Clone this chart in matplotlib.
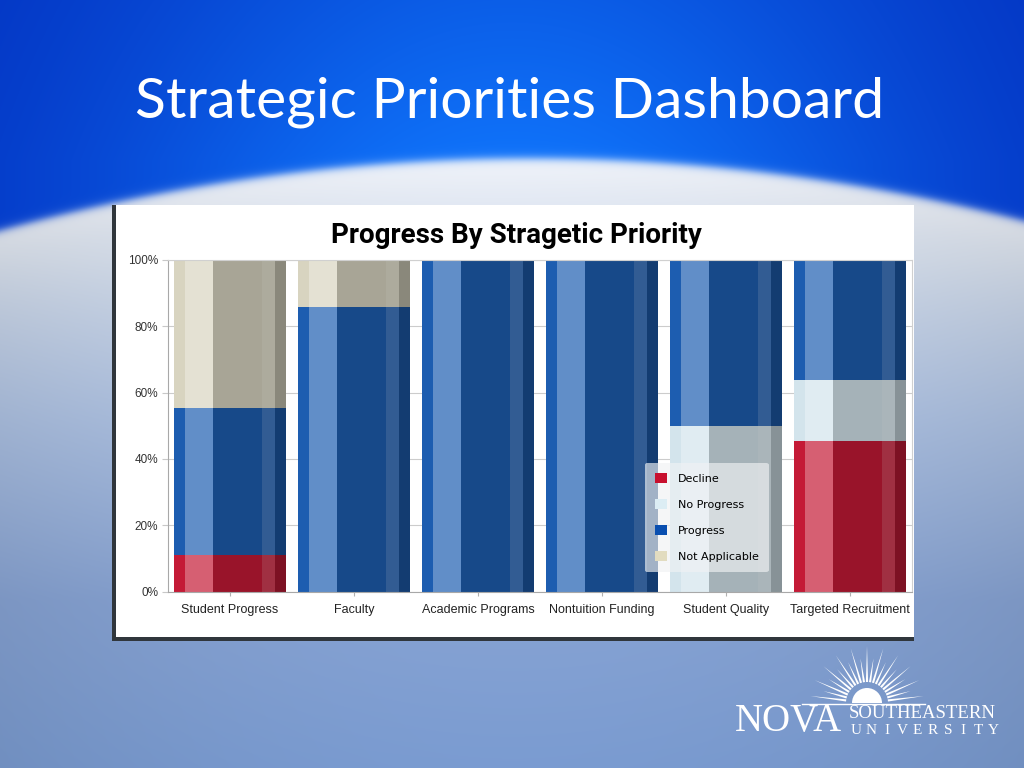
import matplotlib
matplotlib.use('Agg')
import matplotlib.pyplot as plt
import numpy as np
from matplotlib.patches import Rectangle, Wedge, Polygon
from matplotlib.colors import to_rgb

#====Data====
categories = ['Student Progress', 'Faculty', 'Academic Programs',
              'Nontuition Funding', 'Student Quality', 'Targeted Recruitment']
decline = [11.1, 0, 0, 0, 0, 45.5]
no_progress = [0, 0, 0, 0, 50.0, 18.2]
progress = [44.4, 85.7, 100, 100, 50.0, 36.3]
not_applicable = [44.5, 14.3, 0, 0, 0, 0]
series_names = ['Decline', 'No Progress', 'Progress', 'Not Applicable']
series_values = [decline, no_progress, progress, not_applicable]
series_colors = ['#c41a36', '#d3e4ec', '#1d5db0', '#d8d4c0']
legend_colors = ['#c8102e', '#dcedf4', '#0a4fb0', '#e2dcc0']
yticks = [0, 20, 40, 60, 80, 100]
ytick_labels = ['0%', '20%', '40%', '60%', '80%', '100%']

#====Cylinder look: vertical stripes (start, end, darken, lighten)====
stripes = [(0.0, 0.095, 0.0, 0.0), (0.095, 0.35, 0.0, 0.3), (0.35, 0.79, 0.22, 0.0),
           (0.79, 0.90, 0.25, 0.12), (0.90, 1.0, 0.36, 0.0)]

def shade(c, dk, lt):
    c = np.array(to_rgb(c)) * (1 - dk)
    return c + (1 - c) * lt

W, H = 1024, 768
fig = plt.figure(figsize=(10.24, 7.68), dpi=100)

#====Slide background====
bg = fig.add_axes([0, 0, 1, 1])
bg.set_xlim(0, W)
bg.set_ylim(H, 0)
bg.axis('off')

yy, xx = np.mgrid[0:H, 0:W].astype(float)
arc = 158 + 72 * ((xx - 530) / 530) ** 2
t = np.exp(-((xx - 512) / 430) ** 2) * np.clip(0.7 + 0.3 * yy / 160, 0, 1)
dark = np.array([0.01, 0.18, 0.74])
bright = np.array([0.06, 0.45, 0.98])
top = dark + (bright - dark) * t[..., None]
ys = [150, 260, 420, 600, 768]
cols = np.array([[0.90, 0.92, 0.96], [0.83, 0.87, 0.93],
                 [0.68, 0.76, 0.89], [0.53, 0.64, 0.83], [0.48, 0.61, 0.82]])
low = np.stack([np.interp(yy, ys, cols[:, k]) for k in range(3)], axis=-1)
glow = np.clip(np.exp(-(yy - arc) / 40), 0, 1)[..., None] * 0.5
low = low + (1 - low) * glow
side = (np.abs(xx - 512) / 512) ** 2 * 0.08
low = low * (1 - side[..., None])
mask = 1 / (1 + np.exp(-(yy - arc) / 2.5))
img = top * (1 - mask[..., None]) + low * mask[..., None]
bg.imshow(np.clip(img, 0, 1), extent=(0, W, H, 0), aspect='auto', zorder=0)

bg.text(135, 117, 'Strategic Priorities Dashboard', color='white',
        fontsize=41, family='Lato', ha='left', va='baseline', zorder=2)

# chart panel
bg.add_patch(Rectangle((112, 205), 802, 435, facecolor='white', edgecolor='none', zorder=1))
bg.add_patch(Rectangle((112, 205), 4, 436, facecolor='#30363c', edgecolor='none', zorder=1))
bg.add_patch(Rectangle((112, 637), 802, 4, facecolor='#30363c', edgecolor='none', zorder=1))
bg.text(516, 243, 'Progress By Stragetic Priority', fontsize=20, fontweight='bold',
        family='Roboto', ha='center', va='baseline', color='black', zorder=2)

# logo
cx, cy = 867, 703
bg.add_patch(Wedge((cx, cy), 15, 180, 360, facecolor='white', edgecolor='none', zorder=2))
bg.plot([802, 925], [cy + 1, cy + 1], color='white', lw=1, zorder=2)
angles = np.linspace(7, 173, 21)
for k, a in enumerate(angles):
    r0, r1 = 21, (57 if k % 2 == 0 else 45)
    ca, sa = np.cos(np.radians(a)), -np.sin(np.radians(a))
    px, py = -sa, ca
    pts = [(cx + r0 * ca + 1.1 * px, cy + r0 * sa + 1.1 * py),
           (cx + r0 * ca - 1.1 * px, cy + r0 * sa - 1.1 * py),
           (cx + r1 * ca, cy + r1 * sa)]
    bg.add_patch(Polygon(pts, closed=True, facecolor='white', edgecolor='none', zorder=2))
bg.text(735, 731, 'NOVA', color='white', fontsize=28, family='Liberation Serif',
        ha='left', va='baseline', zorder=2)
bg.text(849, 718, 'SOUTHEASTERN', color='white', fontsize=13.5, family='Liberation Serif',
        ha='left', va='baseline', zorder=2)
for k, ch in enumerate('UNIVERSITY'):
    bg.text(856 + k * 15.3, 734, ch, color='white', fontsize=11, family='Liberation Serif',
            ha='center', va='baseline', zorder=2)

#====Chart====
ax = fig.add_axes([168 / W, 1 - 591.5 / H, 744 / W, 331.5 / H])
ax.set_facecolor('white')
x = np.arange(len(categories))
w = 0.9
bottoms = np.zeros(len(categories))
for vals, col in zip(series_values, series_colors):
    vals = np.array(vals, dtype=float)
    for a, b, dk, lt in stripes:
        ax.bar(x - w / 2 + a * w, vals, width=(b - a) * w, bottom=bottoms,
               align='edge', color=shade(col, dk, lt), linewidth=0, zorder=2)
    bottoms = bottoms + vals

ax.set_xlim(-0.5, 5.5)
ax.set_ylim(0, 100)
ax.set_yticks(yticks)
ax.set_yticklabels(ytick_labels, fontsize=8.5, family='Liberation Sans', color='#333333')
ax.set_xticks(x)
ax.set_xticklabels(categories, fontsize=9, family='Liberation Sans', color='#222222')
ax.tick_params(axis='x', length=3, color='#b0b0b0', pad=6)
ax.tick_params(axis='y', length=4, color='#c8c8c8', pad=3)
ax.yaxis.grid(True, color='#cccccc', lw=0.8)
ax.set_axisbelow(True)
for s in ['top', 'right']:
    ax.spines[s].set_color('#d0d0d0')
for s in ['left', 'bottom']:
    ax.spines[s].set_color('#a8a8a8')

handles = [Rectangle((0, 0), 1, 1, facecolor=c, edgecolor='none') for c in legend_colors]
leg = ax.legend(handles, series_names, loc='lower left', bbox_to_anchor=(0.641, 0.059),
                borderaxespad=0, frameon=True, fancybox=True, framealpha=0.65,
                facecolor='#f0f2f4', edgecolor='none',
                prop={'family': 'DejaVu Sans', 'size': 8},
                handlelength=1.05, handleheight=1.05, labelspacing=1.35,
                borderpad=0.9, handletextpad=1.0)
leg.set_zorder(5)

fig.savefig('out.png', dpi=100)
